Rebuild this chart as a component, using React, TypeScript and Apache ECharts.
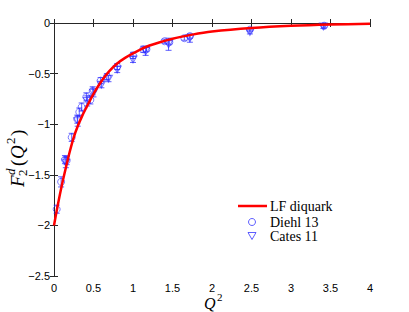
import React, { useEffect, useRef } from "react";
import * as echarts from "echarts";

// LF diquark curve (Q^2, F2^d)
const curveQ2 = [0, 0.05, 0.1, 0.15, 0.2, 0.25, 0.3, 0.35, 0.4, 0.5, 0.6, 0.7, 0.8, 0.9, 1.0, 1.2, 1.5, 1.75, 2.0, 2.5, 3.0, 3.5, 4.0];
const curveF = [-2.0, -1.79, -1.6, -1.43, -1.27, -1.13, -1.02, -0.93, -0.85, -0.7, -0.575, -0.475, -0.4, -0.345, -0.3, -0.225, -0.155, -0.115, -0.085, -0.05, -0.028, -0.015, -0.008];

// Diehl 13
const diehlQ2 = [0.034, 0.09, 0.139, 0.16, 0.224, 0.295, 0.32, 0.35, 0.41, 0.46, 0.49, 0.59, 0.67, 0.8, 1.0, 1.13, 1.17, 1.4, 1.46, 1.65, 1.72, 2.48, 3.42];
const diehlF = [-1.84, -1.57, -1.35, -1.36, -1.13, -0.95, -0.88, -0.83, -0.73, -0.76, -0.67, -0.57, -0.53, -0.43, -0.32, -0.26, -0.26, -0.18, -0.19, -0.15, -0.13, -0.066, -0.027];
const diehlErr = [0.04, 0.05, 0.04, 0.04, 0.04, 0.04, 0.04, 0.04, 0.04, 0.04, 0.04, 0.03, 0.03, 0.03, 0.03, 0.03, 0.02, 0.02, 0.02, 0.02, 0.02, 0.015, 0.015];

// Cates 11
const catesQ2 = [0.15, 0.3, 0.42, 0.5, 0.6, 0.69, 0.8, 1.0, 1.16, 1.45, 1.72, 2.48, 3.41];
const catesF = [-1.38, -0.97, -0.77, -0.69, -0.61, -0.55, -0.46, -0.36, -0.28, -0.21, -0.15, -0.088, -0.035];
const catesErr = [0.05, 0.05, 0.05, 0.04, 0.03, 0.03, 0.03, 0.03, 0.04, 0.06, 0.04, 0.02, 0.02];

const legendNames = ["LF diquark", "Diehl 13", "Cates 11"];

const BLUE = "rgba(40,40,255,0.75)";
const TRI = "path://M0,0 L10,0 L5,9 Z";

export default function App() {
  const ref = useRef<HTMLDivElement>(null);
  useEffect(() => {
    if (!ref.current) return;
    const chart = echarts.init(ref.current, undefined, { renderer: "svg" });

    const errData = [
      ...diehlQ2.map((q, i) => [q, diehlF[i] - diehlErr[i], diehlF[i] + diehlErr[i]]),
      ...catesQ2.map((q, i) => [q, catesF[i] - catesErr[i], catesF[i] + catesErr[i]]),
    ];

    const axisLine = { show: true, lineStyle: { color: "#262626", width: 1 } };
    const tick = { show: true, inside: true, length: 4, lineStyle: { color: "#262626" } };
    const labelFont = { fontFamily: "Liberation Sans", fontSize: 11, color: "#000", hideOverlap: false };
    const minus = (v: number) => String(Math.round(v * 10) / 10).replace("-", "\u2212");

    const serif = "Liberation Serif";
    const yl = 19;
    const ys = 13;
    const lf = `14px ${serif}`;

    chart.setOption({
      animation: false,
      grid: { left: 54, right: 39, top: 23, bottom: 36 },
      xAxis: [
        {
          type: "value", min: 0, max: 4, interval: 0.5, position: "bottom",
          axisLine, axisTick: tick, splitLine: { show: false },
          axisLabel: { ...labelFont, margin: 6, formatter: (v: number) => String(v) },
        },
        {
          type: "value", min: 0, max: 4, interval: 0.5, position: "top",
          axisLine, axisTick: tick, splitLine: { show: false }, axisLabel: { show: false },
        },
      ],
      yAxis: [
        {
          type: "value", min: -2.5, max: 0, interval: 0.5, position: "left",
          axisLine, axisTick: tick, splitLine: { show: false },
          axisLabel: { ...labelFont, margin: 4, formatter: (v: number) => minus(v) },
        },
        {
          type: "value", min: -2.5, max: 0, interval: 0.5, position: "right",
          axisLine, axisTick: tick, splitLine: { show: false }, axisLabel: { show: false },
        },
      ],
      series: [
        {
          name: "errors",
          type: "custom",
          xAxisIndex: 0,
          yAxisIndex: 0,
          data: errData,
          silent: true,
          z: 2,
          renderItem: (params: any, api: any) => {
            const x = api.value(0);
            const p1 = api.coord([x, api.value(1)]);
            const p2 = api.coord([x, api.value(2)]);
            const style = { stroke: BLUE, lineWidth: 1 };
            const c = 3;
            return {
              type: "group",
              children: [
                { type: "line", shape: { x1: p1[0], y1: p1[1], x2: p2[0], y2: p2[1] }, style },
                { type: "line", shape: { x1: p1[0] - c, y1: p1[1], x2: p1[0] + c, y2: p1[1] }, style },
                { type: "line", shape: { x1: p2[0] - c, y1: p2[1], x2: p2[0] + c, y2: p2[1] }, style },
              ],
            };
          },
        },
        {
          name: legendNames[1],
          type: "scatter",
          data: diehlQ2.map((q, i) => [q, diehlF[i]]),
          symbol: "circle",
          symbolSize: 7,
          itemStyle: { color: "transparent", borderColor: BLUE, borderWidth: 1 },
          z: 3,
        },
        {
          name: legendNames[2],
          type: "scatter",
          data: catesQ2.map((q, i) => [q, catesF[i]]),
          symbol: TRI,
          symbolSize: [8, 7],
          itemStyle: { color: "transparent", borderColor: BLUE, borderWidth: 1 },
          z: 3,
        },
        {
          name: legendNames[0],
          type: "line",
          data: curveQ2.map((q, i) => [q, curveF[i]]),
          smooth: 0.3,
          symbol: "none",
          lineStyle: { color: "#ff0000", width: 2.5 },
          itemStyle: { color: "#ff0000" },
          z: 4,
        },
      ],
      graphic: [
        {
          type: "group",
          x: 17,
          y: 187,
          rotation: Math.PI / 2,
          children: [
            { type: "text", x: 0, y: 0, style: { text: "F", font: `italic ${yl}px ${serif}`, fill: "#000", verticalAlign: "middle" } },
            { type: "text", x: 12, y: -7, style: { text: "d", font: `italic ${ys}px ${serif}`, fill: "#000", verticalAlign: "middle" } },
            { type: "text", x: 11, y: 5, style: { text: "2", font: `${ys}px ${serif}`, fill: "#000", verticalAlign: "middle" } },
            { type: "text", x: 21, y: 0, style: { text: "(", font: `${yl}px ${serif}`, fill: "#000", verticalAlign: "middle" } },
            { type: "text", x: 28, y: 0, style: { text: "Q", font: `italic ${yl}px ${serif}`, fill: "#000", verticalAlign: "middle" } },
            { type: "text", x: 43, y: -7, style: { text: "2", font: `${ys}px ${serif}`, fill: "#000", verticalAlign: "middle" } },
            { type: "text", x: 51, y: 0, style: { text: ")", font: `${yl}px ${serif}`, fill: "#000", verticalAlign: "middle" } },
          ],
        },
        { type: "text", x: 204, y: 303, style: { text: "Q", font: `italic 16px ${serif}`, fill: "#000", verticalAlign: "middle" } },
        { type: "text", x: 217, y: 297, style: { text: "2", font: `11px ${serif}`, fill: "#000", verticalAlign: "middle" } },
        // legend
        { type: "line", shape: { x1: 238, y1: 206, x2: 267, y2: 206 }, style: { stroke: "#ff0000", lineWidth: 2.5 } },
        { type: "text", x: 270, y: 206, style: { text: legendNames[0], font: lf, fill: "#000", verticalAlign: "middle" } },
        { type: "circle", shape: { cx: 252, cy: 222, r: 3.5 }, style: { fill: "none", stroke: BLUE, lineWidth: 1 } },
        { type: "text", x: 270, y: 222, style: { text: legendNames[1], font: lf, fill: "#000", verticalAlign: "middle" } },
        { type: "polygon", shape: { points: [[248, 232.5], [256, 232.5], [252, 239.5]] }, style: { fill: "none", stroke: BLUE, lineWidth: 1 } },
        { type: "text", x: 270, y: 236, style: { text: legendNames[2], font: lf, fill: "#000", verticalAlign: "middle" } },
      ],
    });
    return () => chart.dispose();
  }, []);
  return <div ref={ref} style={{ width: 409, height: 312, position: "absolute", left: 0, top: 0 }} />;
}
